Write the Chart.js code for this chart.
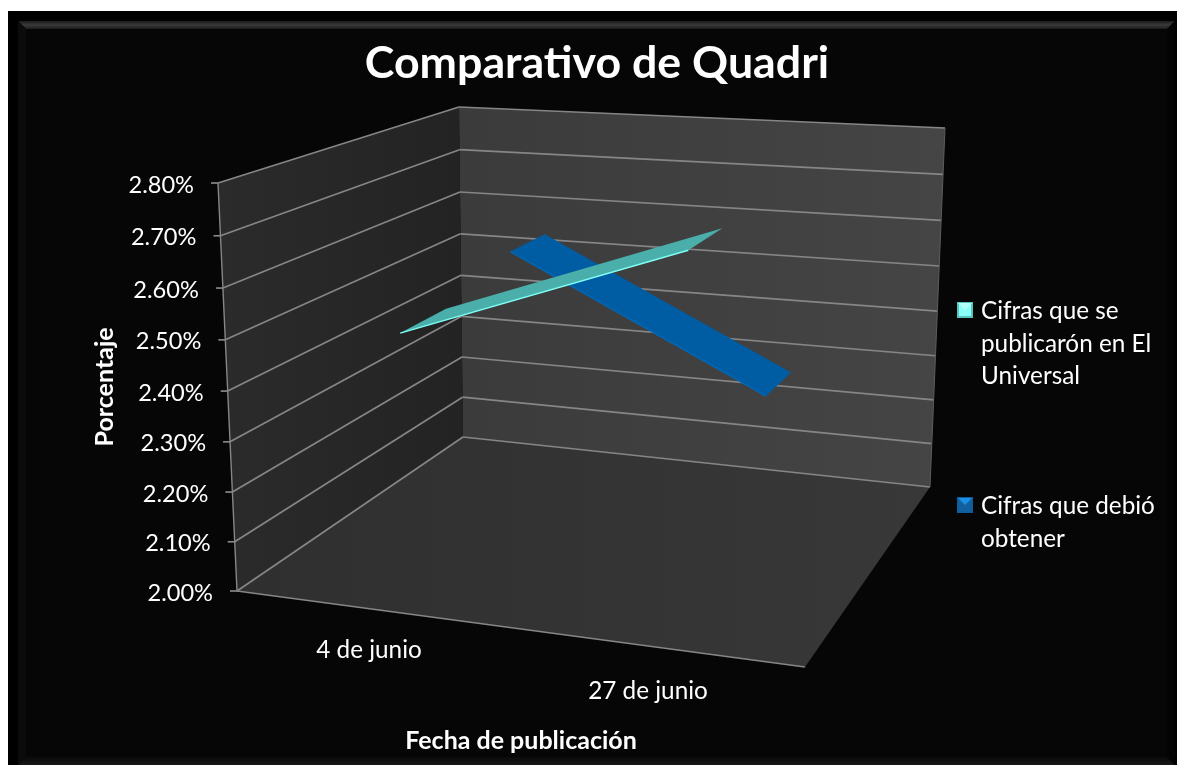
<!DOCTYPE html>
<html>
<head>
<meta charset="utf-8">
<title>Comparativo de Quadri</title>
<script src="https://cdn.jsdelivr.net/npm/chart.js@4"></script>
<style>
  html, body { margin: 0; padding: 0; background: #fff; overflow: hidden; }
  canvas { display: block; }
</style>
</head>
<body>
<canvas id="myChart" width="1177" height="765"></canvas>
<script>
const categories = ['4 de junio', '27 de junio'];
const publicadas = [2.51, 2.71];   // Cifras que se publicarón en El Universal
const debidas = [2.56, 2.295];     // Cifras que debió obtener
const seriesLabels = ['Cifras que se publicarón en El Universal', 'Cifras que debió obtener'];
const yTicks = [2.0, 2.1, 2.2, 2.3, 2.4, 2.5, 2.6, 2.7, 2.8];

const fontName = 'Lato, "Open Sans", sans-serif';

// corners of the 3D box on the page: F/B = front/back, B/T = bottom/top, L/R
const box = {
  fbl: [237, 591], fbr: [805, 667], bbl: [463, 437], bbr: [930, 487],
  ftl: [218, 183], ftr: [818, 223], btl: [459, 107], btr: [945, 128]
};
// ribbon depth slots inside the box, one per series
const depths = [[0.135, 0.355], [0.665, 0.83]];
const ribbonFill = ['#4aaeaa', '#005ca3'];
const catLabelShift = [[-10, 40], [-15, 43]];

function mix(a, b, t) {
  return [a[0] + (b[0] - a[0]) * t, a[1] + (b[1] - a[1]) * t];
}

// takes scale pixels + depth (0 front, 1 back) and gives the place in the box
function project(chart, px, py, d) {
  const area = chart.chartArea;
  const u = (px - area.left) / (area.right - area.left);
  let v = (area.bottom - py) / (area.bottom - area.top);
  v = v - 0.04 * v * (1 - v); // height steps are not quite even in the perspective
  const bottom = mix(mix(box.fbl, box.fbr, u), mix(box.bbl, box.bbr, u), d);
  const top = mix(mix(box.ftl, box.ftr, u), mix(box.btl, box.btr, u), d);
  return mix(bottom, top, v);
}

function poly(ctx, pts, fill) {
  ctx.beginPath();
  pts.forEach((p, i) => i ? ctx.lineTo(p[0], p[1]) : ctx.moveTo(p[0], p[1]));
  ctx.closePath();
  ctx.fillStyle = fill;
  ctx.fill();
}

function seg(ctx, a, b, color, w) {
  ctx.beginPath();
  ctx.moveTo(a[0], a[1]);
  ctx.lineTo(b[0], b[1]);
  ctx.strokeStyle = color;
  ctx.lineWidth = w;
  ctx.stroke();
}

function linGrad(ctx, x0, y0, x1, y1, stops) {
  const g = ctx.createLinearGradient(x0, y0, x1, y1);
  stops.forEach((s, i) => g.addColorStop(i / (stops.length - 1), s));
  return g;
}

function drawFrame(ctx) {
  ctx.fillStyle = '#fff';
  ctx.fillRect(0, 0, 1177, 765);
  ctx.fillStyle = '#000';
  ctx.fillRect(8, 11, 1169, 754);
  ctx.fillStyle = '#060606';
  ctx.fillRect(26, 29, 1141, 728);
  poly(ctx, [[18, 21], [1175, 21], [1167, 29], [26, 29]], linGrad(ctx, 0, 21, 0, 29, ['#1a1a1a', '#3a3a3a', '#1c1c1c']));
  poly(ctx, [[18, 765], [1175, 765], [1167, 757], [26, 757]], linGrad(ctx, 0, 757, 0, 765, ['#0a0a0a', '#171717']));
  poly(ctx, [[18, 21], [26, 29], [26, 757], [18, 765]], '#0b0b0b');
  poly(ctx, [[1175, 21], [1167, 29], [1167, 757], [1175, 765]], '#030303');
}

function drawBox(chart) {
  const ctx = chart.ctx;
  const gridColor = '#868686';
  poly(ctx, [box.btl, box.btr, box.bbr, box.bbl], linGrad(ctx, 460, 0, 945, 0, ['#3b3b3b', '#454545']));
  poly(ctx, [box.ftl, box.btl, box.bbl, box.fbl], linGrad(ctx, 218, 0, 463, 0, ['#2b2b2b', '#232323']));
  poly(ctx, [box.fbl, box.fbr, box.bbr, box.bbl], linGrad(ctx, 240, 0, 930, 0, ['#2f2f2f', '#383838']));

  const y = chart.scales.y;
  const left = chart.chartArea.left;
  const right = chart.chartArea.right;
  y.ticks.forEach(t => {
    const py = y.getPixelForValue(t.value);
    const a = project(chart, left, py, 0);
    const b = project(chart, left, py, 1);
    const c = project(chart, right, py, 1);
    seg(ctx, a, b, gridColor, 1.7);
    seg(ctx, b, c, gridColor, 1.7);
    seg(ctx, [a[0] - 7, a[1]], a, gridColor, 1.7);
  });
  seg(ctx, box.ftl, box.fbl, gridColor, 1.4);
  seg(ctx, box.fbl, box.fbr, gridColor, 1.7);
  seg(ctx, box.btr, box.bbr, '#5c5c5c', 1);
}

function drawLabels(chart) {
  const ctx = chart.ctx;
  const y = chart.scales.y;
  const x = chart.scales.x;
  ctx.fillStyle = '#fff';
  ctx.font = '23.6px ' + fontName;
  ctx.textBaseline = 'middle';
  ctx.textAlign = 'right';
  y.ticks.forEach(t => {
    const a = project(chart, chart.chartArea.left, y.getPixelForValue(t.value), 0);
    ctx.fillText(t.label, a[0] - 24, a[1] + 2);
  });
  ctx.font = '24.3px ' + fontName;
  ctx.textAlign = 'center';
  categories.forEach((c, i) => {
    const a = project(chart, x.getPixelForValue(i), chart.chartArea.bottom, 0);
    ctx.fillText(c, a[0] + catLabelShift[i][0], a[1] + catLabelShift[i][1]);
  });

  // legend
  const tops = [302, 497];
  const colors = [['#58c4be', '#8afff8', '#b5fffa'], ['#0f5c9c', '#11609f', '#1c8fe4']];
  seriesLabels.forEach((label, i) => {
    const yTop = tops[i];
    const c = colors[i];
    ctx.fillStyle = c[0];
    ctx.fillRect(957, yTop, 16, 16);
    ctx.fillStyle = c[1];
    ctx.fillRect(959, yTop + 2, 12, 12);
    poly(ctx, [[958, yTop + 1], [972, yTop + 1], [965, yTop + 8]], c[2]);
    const lines = [];
    let line = '';
    label.split(' ').forEach(word => {
      const next = line ? line + ' ' + word : word;
      if (ctx.measureText(next).width > 185) { lines.push(line); line = word; } else { line = next; }
    });
    lines.push(line);
    ctx.fillStyle = '#fff';
    ctx.textAlign = 'left';
    lines.forEach((l, j) => ctx.fillText(l, 981, yTop + 9 + j * 32.7));
  });
}

const boxPlugin = {
  id: 'box3d',
  beforeDraw(chart) {
    drawFrame(chart.ctx);
    drawBox(chart);
    drawLabels(chart);
  },
  beforeDatasetDraw(chart, args) {
    const meta = chart.getDatasetMeta(args.index);
    const ds = chart.data.datasets[args.index];
    const x = chart.scales.x;
    const y = chart.scales.y;
    const [d0, d1] = depths[args.index];
    const front = ds.data.map((v, i) => project(chart, x.getPixelForValue(i), y.getPixelForValue(v), d0));
    const back = ds.data.map((v, i) => project(chart, x.getPixelForValue(i), y.getPixelForValue(v), d1));
    poly(chart.ctx, front.concat(back.slice().reverse()), ribbonFill[args.index]);
    // the line itself becomes the front edge of the ribbon
    meta.data.forEach((pt, i) => { pt.x = front[i][0]; pt.y = front[i][1]; });
  }
};

const myChart = new Chart('myChart', {
  type: 'line',
  data: {
    labels: categories,
    datasets: [
      { label: seriesLabels[0], data: publicadas, borderColor: '#7ffff6', borderWidth: 1.5, pointRadius: 0, clip: false },
      { label: seriesLabels[1], data: debidas, borderColor: '#0068b6', borderWidth: 1.5, pointRadius: 0, clip: false }
    ]
  },
  plugins: [boxPlugin],
  options: {
    responsive: false,
    animation: false,
    devicePixelRatio: 1,
    layout: { padding: { left: 17, right: 0, top: 0, bottom: 0 } },
    events: [],
    plugins: {
      legend: { display: false },
      tooltip: { enabled: false },
      title: {
        display: true,
        text: 'Comparativo de Quadri',
        color: '#fff',
        font: { family: fontName, size: 44.7, weight: 'bold', lineHeight: 1.2 },
        padding: { top: 37, bottom: 92.2 }
      }
    },
    scales: {
      x: {
        offset: true,
        grid: { display: false },
        border: { display: false },
        ticks: { display: false },
        title: {
          display: true,
          text: 'Fecha de publicación',
          color: '#fff',
          font: { family: fontName, size: 25, weight: 'bold' },
          padding: { top: 0, bottom: 9 }
        },
        afterFit: s => { s.height = 174; }
      },
      y: {
        min: 2,
        max: 2.8,
        afterBuildTicks: s => { s.ticks = yTicks.map(value => ({ value })); },
        grid: { display: false },
        border: { display: false },
        ticks: { display: false, callback: v => v.toFixed(2) + '%' },
        title: {
          display: true,
          text: 'Porcentaje',
          color: '#fff',
          font: { family: fontName, size: 25, weight: 'bold' },
          padding: { top: 73, bottom: 0 }
        },
        afterFit: s => { s.width = 220; }
      },
      spacer: {
        position: 'right',
        display: true,
        grid: { display: false },
        border: { display: false },
        ticks: { display: false },
        afterFit: s => { s.width = 372; }
      }
    }
  }
});
</script>
</body>
</html>
